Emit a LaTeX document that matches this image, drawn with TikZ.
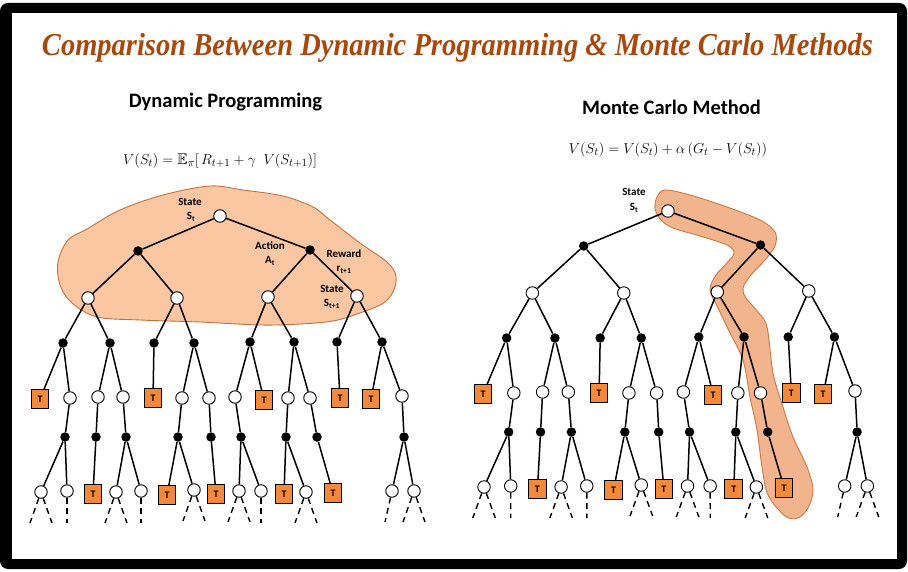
\documentclass[tikz,border=0pt]{standalone}
\usepackage{fontspec}
\usepackage{amssymb}
\setmainfont{Liberation Serif}
\newfontfamily\carlito{Carlito}
\definecolor{titlec}{RGB}{168,72,12}
\definecolor{tbox}{RGB}{245,137,58}
\definecolor{blobfill}{RGB}{251,199,163}
\definecolor{blobedge}{RGB}{196,112,60}
\definecolor{bandfill}{RGB}{242,180,140}
\definecolor{bandedge}{RGB}{200,120,70}
\tikzset{
 wnode/.style={circle, draw=black, fill=white, line width=0.9pt, minimum size=12.5pt, inner sep=0pt},
 bnode/.style={circle, fill=black, minimum size=9.5pt, inner sep=0pt},
 tnode/.style={rectangle, draw=black, fill=tbox, line width=1pt, minimum width=17.5pt, minimum height=18.5pt, inner sep=0pt, font=\carlito\bfseries\fontsize{10}{10}\selectfont},
 edge/.style={line width=1.5pt},
 dline/.style={line width=1.4pt, dash pattern=on 6pt off 4.5pt},
 lbl/.style={font=\carlito\bfseries\fontsize{11}{12}\selectfont, inner sep=0pt},
 head/.style={font=\carlito\bfseries\fontsize{20.5}{24}\selectfont, inner sep=0pt},
 formula/.style={font=\fontsize{15.5}{18}\selectfont, inner sep=0pt},
}
\newcommand\dashtwo[1]{\path (#1) ++(-11,31) coordinate (#1-l) (#1) ++(11,31) coordinate (#1-r);
 \draw[dline] (#1) -- (#1-l); \draw[dline] (#1) -- (#1-r);}
\newcommand\dashone[1]{\path (#1) ++(0,32) coordinate (#1-d); \draw[dline] (#1) -- (#1-d);}
\newcommand\dashleft[1]{\path (#1) ++(-7,31) coordinate (#1-l); \draw[dline] (#1) -- (#1-l);}
\newcommand\mytree[1]{%
 \node[wnode] (#1r) at (220,216) {};
 \node[bnode] (#1b1) at (138,251) {};
 \node[bnode] (#1b2) at (310,250) {};
 \node[wnode] (#1w1) at (88,298) {};
 \node[wnode] (#1w2) at (177,298) {};
 \node[wnode] (#1w3) at (268,297) {};
 \node[wnode] (#1w4) at (357,296) {};
 \node[bnode] (#1c1) at (63,343) {};
 \node[bnode] (#1c2) at (110,343) {};
 \node[bnode] (#1c3) at (154,343) {};
 \node[bnode] (#1c4) at (194,343) {};
 \node[bnode] (#1c5) at (250,342) {};
 \node[bnode] (#1c6) at (294,342) {};
 \node[bnode] (#1c7) at (337,342) {};
 \node[bnode] (#1c8) at (382,342) {};
 \node[tnode] (#1d1) at (40,399) {T};
 \node[wnode] (#1d2) at (70,398) {};
 \node[wnode] (#1d3) at (98,397) {};
 \node[wnode] (#1d4) at (123,397) {};
 \node[tnode] (#1d5) at (153,398) {T};
 \node[wnode] (#1d6) at (182,398) {};
 \node[wnode] (#1d7) at (209,398) {};
 \node[wnode] (#1d8) at (235,397) {};
 \node[tnode] (#1d9) at (264,400) {T};
 \node[wnode] (#1d10) at (288,398) {};
 \node[wnode] (#1d11) at (310,398) {};
 \node[tnode] (#1d12) at (340,398) {T};
 \node[tnode] (#1d13) at (371,399) {T};
 \node[wnode] (#1d14) at (402,396) {};
 \node[bnode] (#1e1) at (65,437) {};
 \node[bnode] (#1e2) at (96,437) {};
 \node[bnode] (#1e3) at (126,437) {};
 \node[bnode] (#1e4) at (178,437) {};
 \node[bnode] (#1e5) at (211,437) {};
 \node[bnode] (#1e6) at (241,437) {};
 \node[bnode] (#1e7) at (286,437) {};
 \node[bnode] (#1e8) at (317,437) {};
 \node[bnode] (#1e9) at (404,437) {};
 \node[wnode] (#1f1) at (41,492) {};
 \node[wnode] (#1f2) at (67,491) {};
 \node[tnode] (#1f3) at (93,494) {T};
 \node[wnode] (#1f4) at (116,492) {};
 \node[wnode] (#1f5) at (141,491) {};
 \node[tnode] (#1f6) at (167,495) {T};
 \node[wnode] (#1f7) at (194,490) {};
 \node[tnode] (#1f8) at (216,494) {T};
 \node[wnode] (#1f9) at (239,491) {};
 \node[wnode] (#1f10) at (261,491) {};
 \node[tnode] (#1f11) at (284,494) {T};
 \node[wnode] (#1f12) at (306,492) {};
 \node[tnode] (#1f13) at (333,493) {T};
 \node[wnode] (#1f14) at (392,491) {};
 \node[wnode] (#1f15) at (414,491) {};
 \draw[edge] (#1r) -- (#1b1); \draw[edge] (#1r) -- (#1b2);
 \draw[edge] (#1b1) -- (#1w1); \draw[edge] (#1b1) -- (#1w2);
 \draw[edge] (#1b2) -- (#1w3); \draw[edge] (#1b2) -- (#1w4);
 \draw[edge] (#1w1) -- (#1c1); \draw[edge] (#1w1) -- (#1c2);
 \draw[edge] (#1w2) -- (#1c3); \draw[edge] (#1w2) -- (#1c4);
 \draw[edge] (#1w3) -- (#1c5); \draw[edge] (#1w3) -- (#1c6);
 \draw[edge] (#1w4) -- (#1c7); \draw[edge] (#1w4) -- (#1c8);
 \draw[edge] (#1c1) -- (#1d1); \draw[edge] (#1c1) -- (#1d2);
 \draw[edge] (#1c2) -- (#1d3); \draw[edge] (#1c2) -- (#1d4);
 \draw[edge] (#1c3) -- (#1d5);
 \draw[edge] (#1c4) -- (#1d6); \draw[edge] (#1c4) -- (#1d7);
 \draw[edge] (#1c5) -- (#1d8); \draw[edge] (#1c5) -- (#1d9);
 \draw[edge] (#1c6) -- (#1d10); \draw[edge] (#1c6) -- (#1d11);
 \draw[edge] (#1c7) -- (#1d12);
 \draw[edge] (#1c8) -- (#1d13); \draw[edge] (#1c8) -- (#1d14);
 \draw[edge] (#1d2) -- (#1e1); \draw[edge] (#1d3) -- (#1e2);
 \draw[edge] (#1d4) -- (#1e3); \draw[edge] (#1d6) -- (#1e4);
 \draw[edge] (#1d7) -- (#1e5); \draw[edge] (#1d8) -- (#1e6);
 \draw[edge] (#1d10) -- (#1e7); \draw[edge] (#1d11) -- (#1e8);
 \draw[edge] (#1d14) -- (#1e9);
 \draw[edge] (#1e1) -- (#1f1); \draw[edge] (#1e1) -- (#1f2);
 \draw[edge] (#1e2) -- (#1f3);
 \draw[edge] (#1e3) -- (#1f4); \draw[edge] (#1e3) -- (#1f5);
 \draw[edge] (#1e4) -- (#1f6); \draw[edge] (#1e4) -- (#1f7);
 \draw[edge] (#1e5) -- (#1f8);
 \draw[edge] (#1e6) -- (#1f9); \draw[edge] (#1e6) -- (#1f10);
 \draw[edge] (#1e7) -- (#1f11); \draw[edge] (#1e7) -- (#1f12);
 \draw[edge] (#1e8) -- (#1f13);
 \draw[edge] (#1e9) -- (#1f14); \draw[edge] (#1e9) -- (#1f15);
 \dashtwo{#1f1} \dashone{#1f2} \dashtwo{#1f4} \dashone{#1f5}
 \dashtwo{#1f7} \dashtwo{#1f9} \dashone{#1f10} \dashtwo{#1f12}
 \dashleft{#1f14} \dashtwo{#1f15}
}
\begin{document}
\begin{tikzpicture}[x=1pt, y=-1pt]
\useasboundingbox (0,0) rectangle (908,572);
\fill[white] (0,0) rectangle (908,572);
\fill[black, rounded corners=8pt] (0,3) rectangle (907,569);
\fill[white] (12,13) rectangle (897,559);
% title
\node[inner sep=0pt, text=titlec] (title) at (457.5,48)
 {\resizebox{831pt}{!}{\scalebox{1}[1.12]{\bfseries\itshape\fontsize{28}{32}\selectfont Comparison Between Dynamic Programming \& Monte Carlo Methods}}};
\node[head] (hdp) at (225.5,102) {Dynamic Programming};
\node[head] (hmc) at (671.5,107) {Monte Carlo Method};
\node[formula] (fdp) at (220,161) {$V(S_t) = \mathbb{E}_\pi[\,R_{t+1} + \gamma\ \ V(S_{t+1})]$};
\node[formula] (fmc) at (668,150) {$V(S_t) = V(S_t) + \alpha\,\bigl(G_t - V(S_t)\bigr)$};
% left blob
\filldraw[fill=blobfill, draw=blobedge, line width=0.9pt] plot[smooth cycle, tension=0.55] coordinates {(58,262) (68,240) (87,229) (120,210) (163,195) (210,186) (243,190) (283,196) (313,207) (330,220) (360,243) (387,262) (396,276) (393,292) (382,304) (357,314) (333,321) (300,324) (260,325) (200,322) (140,320) (97,317) (72,303) (60,285)};
% right band
\filldraw[fill=bandfill, draw=bandedge, line width=0.9pt] plot[smooth cycle, tension=0.55] coordinates {(657,197) (655,209) (661,220) (673,228) (700,236) (727,245) (734,253) (727,263) (716,275) (710,290) (718,308) (730,333) (743,360) (750,397) (757,430) (762,467) (768,495) (785,516) (798,518) (808,508) (813,490) (807,467) (793,437) (783,407) (773,373) (767,327) (758,312) (746,298) (743,288) (751,275) (765,260) (775,246) (775,232) (760,220) (727,207) (690,195) (665,190)};
% trees
\mytree{L}
\begin{scope}[shift={(441.9,-5)}, xscale=1.0276]
\mytree{R}
\end{scope}
% labels
\node[lbl] (l1) at (190,202) {State};
\node[lbl] (l2) at (191,217) {S\textsubscript{t}};
\node[lbl] (l3) at (270,246) {Action};
\node[lbl] (l4) at (270,261) {A\textsubscript{t}};
\node[lbl] (l5) at (344,254) {Reward};
\node[lbl] (l6) at (344,270) {r\textsubscript{t+1}};
\node[lbl] (l7) at (332,289) {State};
\node[lbl] (l8) at (332,304) {S\textsubscript{t+1}};
\node[lbl] (r1) at (634,192) {State};
\node[lbl] (r2) at (634,208) {S\textsubscript{t}};
\end{tikzpicture}
\end{document}
